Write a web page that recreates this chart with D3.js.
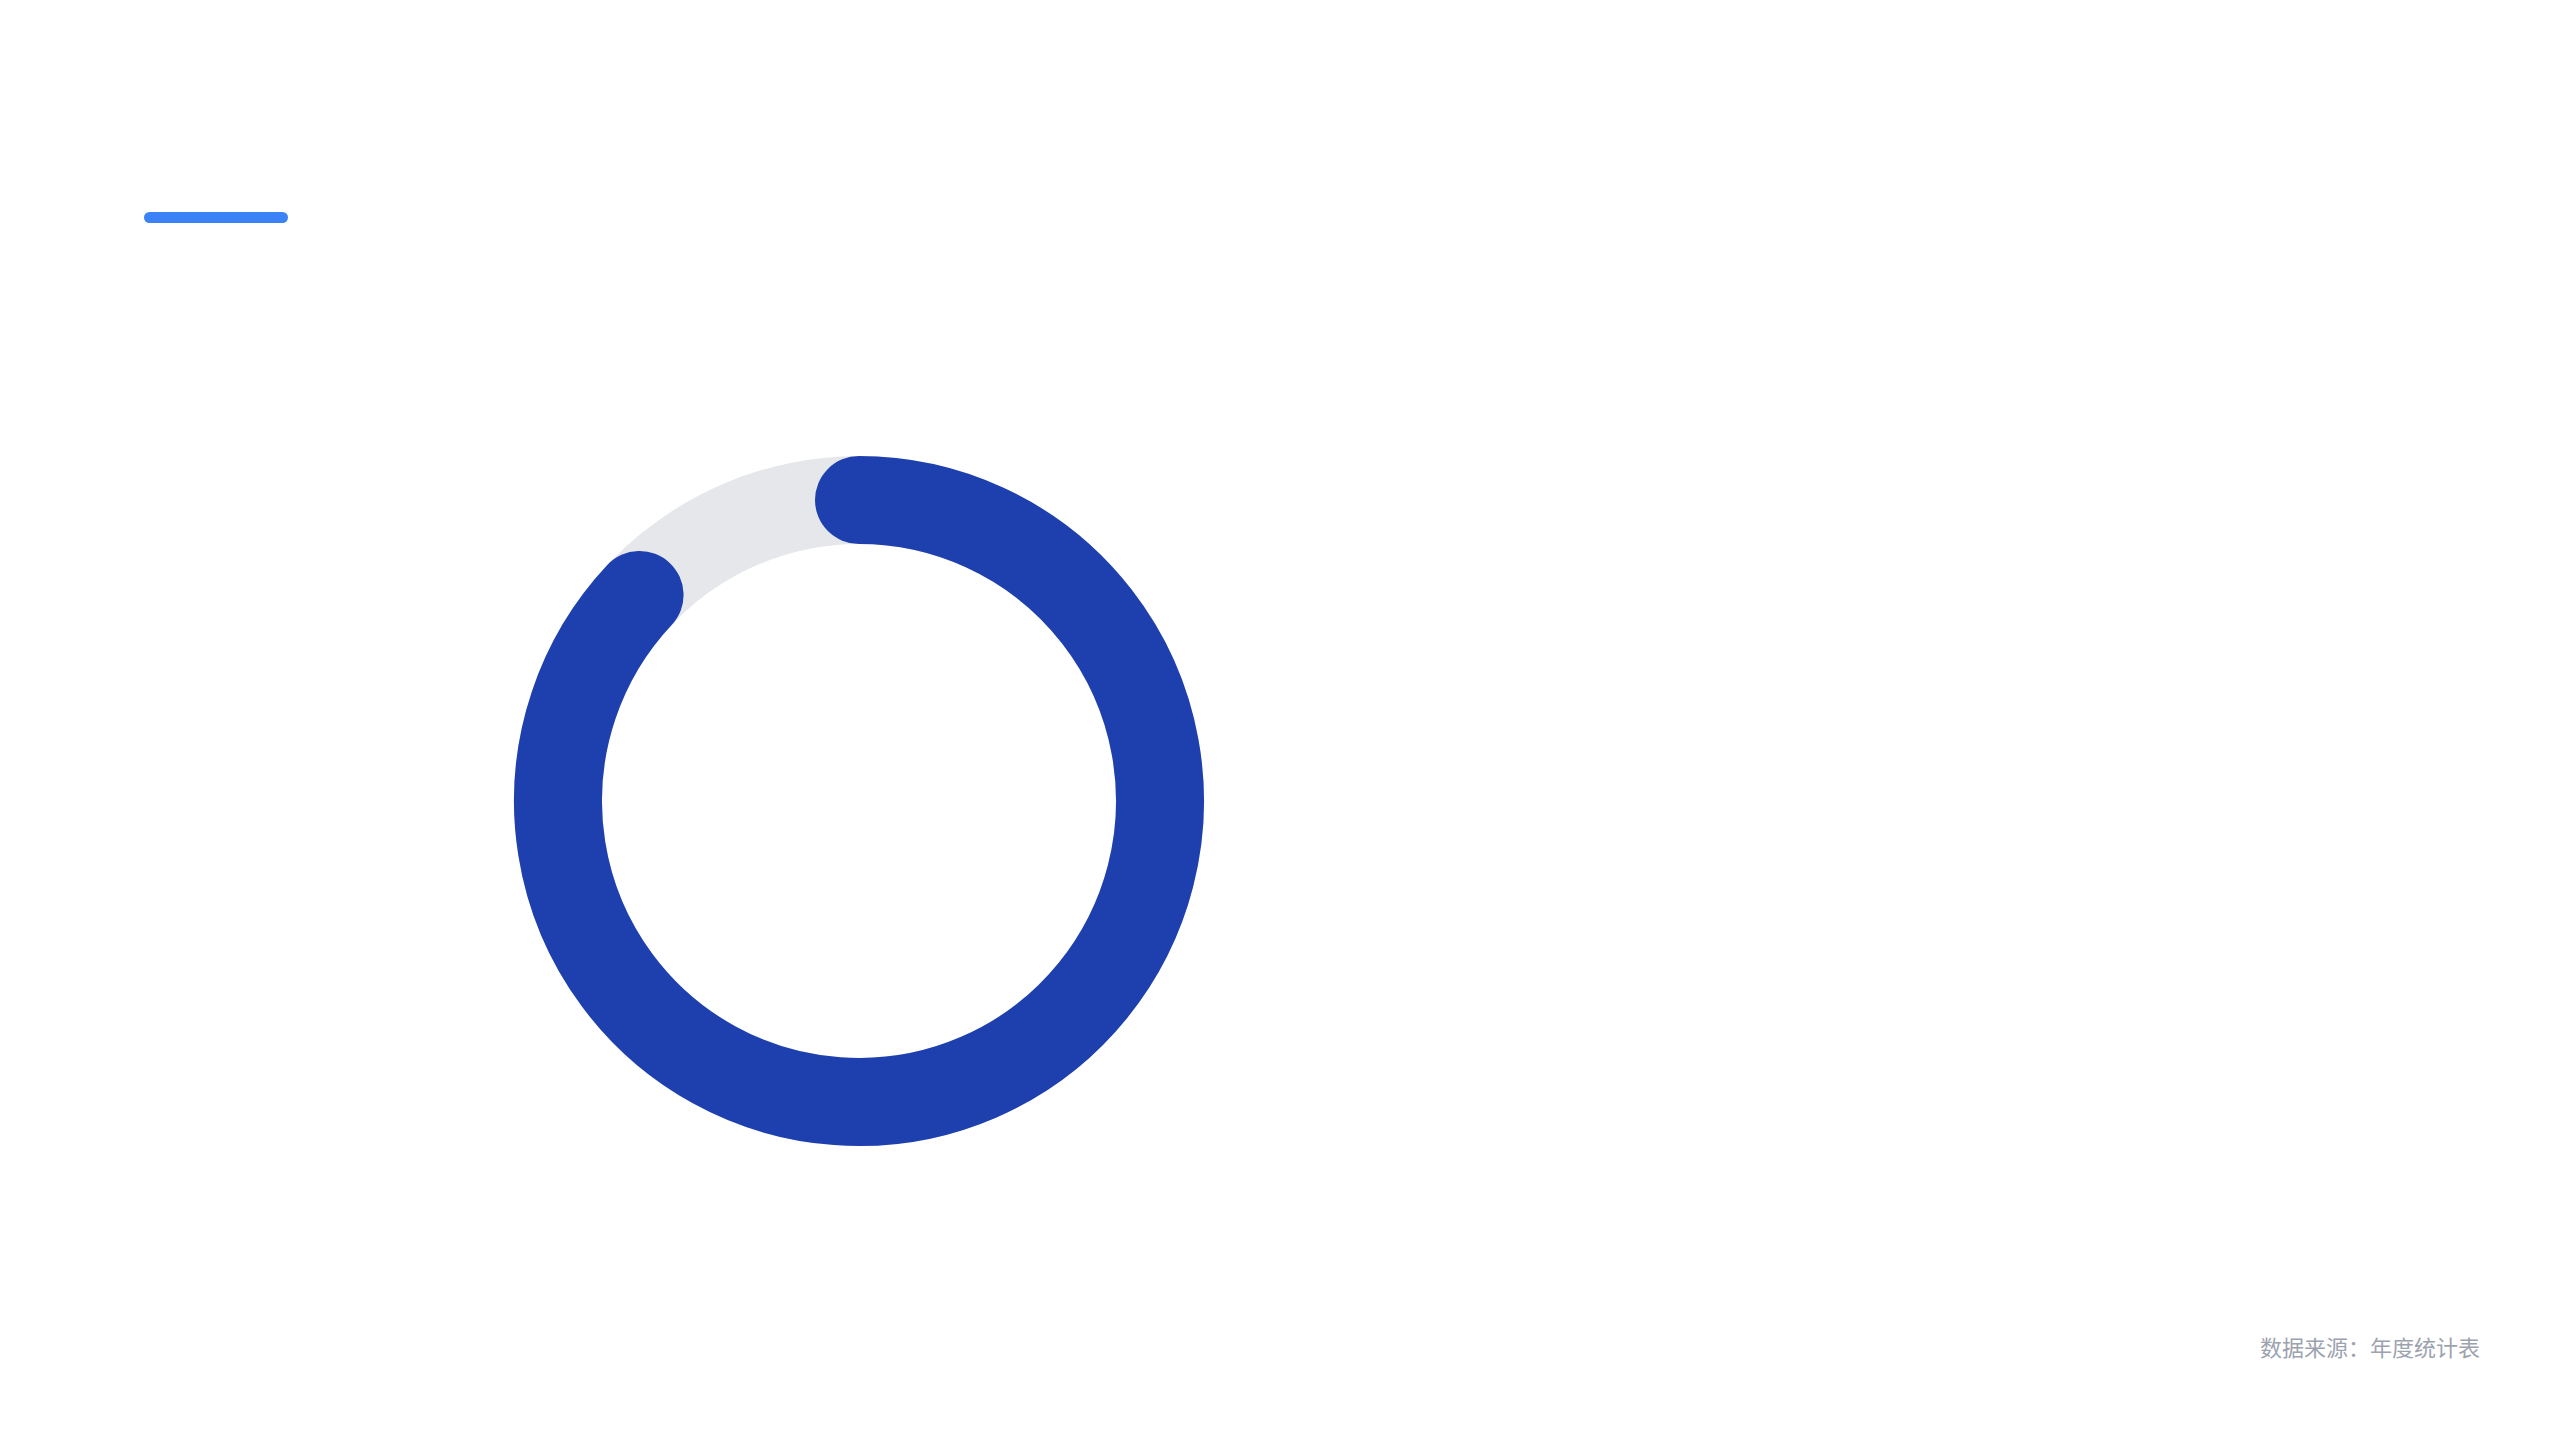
<!DOCTYPE html>
<html>
<head>
<meta charset="utf-8">
<script src="https://cdn.jsdelivr.net/npm/d3@7"></script>
<style>
  html, body { margin: 0; padding: 0; background: #ffffff; }
  svg { display: block; }
</style>
</head>
<body>
<div id="chart"></div>
<script>
// progress ring data
const labels = ['完成'];
const values = [87];
const maxValue = 100;
const footnote = '数据来源：年度统计表';

document.addEventListener("DOMContentLoaded", () => {
    const width = 2560, height = 1440;
    const cx = 859, cy = 801;
    const outerR = 345, innerR = 257;
    const midR = (outerR + innerR) / 2;
    const thickness = outerR - innerR;

    const svg = d3.select('#chart')
        .append('svg')
        .attr('width', width)
        .attr('height', height);

    // accent bar top left
    svg.append('rect')
        .attr('x', 144)
        .attr('y', 212)
        .attr('width', 144)
        .attr('height', 11)
        .attr('rx', 5.5)
        .attr('fill', '#3b82f6');

    const angle = d3.scaleLinear()
        .domain([0, maxValue])
        .range([0, 2 * Math.PI]);

    const g = svg.append('g')
        .attr('transform', `translate(${cx},${cy})`);

    // background track
    g.append('path')
        .attr('d', d3.arc()
            .innerRadius(innerR)
            .outerRadius(outerR)
            .startAngle(angle(0))
            .endAngle(angle(maxValue))())
        .attr('fill', '#e5e7eb');

    // progress arc, round caps
    g.selectAll('path.progress')
        .data(values)
        .enter()
        .append('path')
        .attr('class', 'progress')
        .attr('d', d => {
            const p = d3.path();
            p.arc(0, 0, midR, angle(0) - Math.PI / 2, angle(d) - Math.PI / 2);
            return p.toString();
        })
        .attr('fill', 'none')
        .attr('stroke', '#1e40af')
        .attr('stroke-width', thickness)
        .attr('stroke-linecap', 'round');

    // footnote bottom right
    svg.append('text')
        .attr('x', 2480)
        .attr('y', 1356)
        .attr('text-anchor', 'end')
        .attr('font-family', '"Noto Sans CJK SC", "Noto Sans", sans-serif')
        .attr('font-size', 22)
        .attr('fill', '#9ca3af')
        .text(footnote);
});
</script>
</body>
</html>
